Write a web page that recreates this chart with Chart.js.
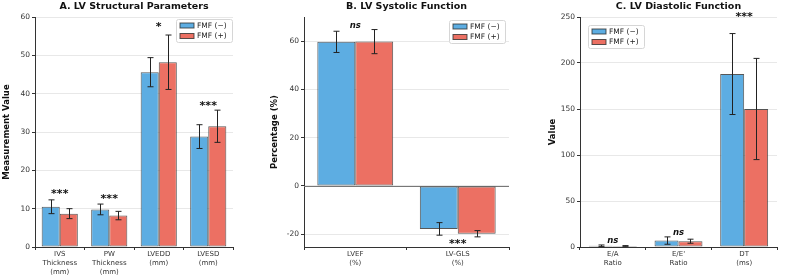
<!DOCTYPE html>
<html>
<head>
<meta charset="utf-8">
<script src="https://cdn.jsdelivr.net/npm/chart.js@4.4.1/dist/chart.umd.min.js"></script>
<style>
  body { margin: 0; background: #fff; }
  .wrap { position: relative; width: 787px; height: 278px; }
  canvas { position: absolute; top: 0; }
</style>
</head>
<body>
<div class="wrap">
  <canvas id="chartA" width="262" height="278" style="left:0px"></canvas>
  <canvas id="chartB" width="262" height="278" style="left:262px"></canvas>
  <canvas id="chartC" width="263" height="278" style="left:524px"></canvas>
</div>
<script>
// ---- data ----
var groupNames = ['FMF (\u2212)', 'FMF (+)'];

var labelsA = [['IVS', 'Thickness', '(mm)'], ['PW', 'Thickness', '(mm)'], ['LVEDD', '(mm)'], ['LVESD', '(mm)']];
var negA = [10.5, 9.8, 45.6, 28.8];
var negErrA = [1.8, 1.4, 3.8, 3.1];
var posA = [8.7, 8.2, 48.2, 31.5];
var posErrA = [1.3, 1.1, 7.1, 4.2];
var sigA = ['***', '***', '*', '***'];
var sigYA = [14.2, 13.1, 58, 37.3];
var ticksA = [0, 10, 20, 30, 40, 50, 60];

var labelsB = [['LVEF', '(%)'], ['LV-GLS', '(%)']];
var negB = [59.7, -17.8];
var negErrB = [4.4, 2.6];
var posB = [59.8, -19.8];
var posErrB = [5.0, 1.3];
var sigB = ['ns', '***'];
var sigYB = [66.5, -23.3];
var ticksB = [-20, 0, 20, 40, 60];

var labelsC = [['E/A', 'Ratio'], ["E/E'", 'Ratio'], ['DT', '(ms)']];
var negC = [1.3, 7.0, 188];
var negErrC = [0.9, 4.0, 44];
var posC = [1.1, 6.3, 150];
var posErrC = [0.4, 2.2, 55];
var sigC = ['ns', 'ns', '***'];
var sigYC = [6.5, 15, 252];
var ticksC = [0, 50, 100, 150, 200, 250];

var blue = '#5DADE2', red = '#EC7063';
var edge = 'rgba(45,45,45,0.8)';
var font = 'DejaVu Sans';

// ---- plugins ----
var errorBars = {
  id: 'errorBars',
  afterDatasetsDraw: function(chart) {
    var ctx = chart.ctx, ys = chart.scales.y;
    ctx.save();
    ctx.strokeStyle = '#222';
    ctx.lineWidth = 1;
    chart.data.datasets.forEach(function(ds, i) {
      chart.getDatasetMeta(i).data.forEach(function(bar, j) {
        var v = ds.data[j], e = ds.err[j];
        var y1 = ys.getPixelForValue(v - e), y2 = ys.getPixelForValue(v + e);
        var x = Math.round(bar.x) + 0.5;
        ctx.beginPath();
        ctx.moveTo(x, y1); ctx.lineTo(x, y2);
        ctx.moveTo(x - 3, y1); ctx.lineTo(x + 3, y1);
        ctx.moveTo(x - 3, y2); ctx.lineTo(x + 3, y2);
        ctx.stroke();
      });
    });
    ctx.restore();
  }
};

var extras = {
  id: 'extras',
  beforeDatasetsDraw: function(chart, args, opts) {
    if (!opts.zeroLine) return;
    var ctx = chart.ctx, a = chart.chartArea;
    var y = Math.round(chart.scales.y.getPixelForValue(0)) + 0.5;
    ctx.save();
    ctx.strokeStyle = '#777';
    ctx.lineWidth = 1.2;
    ctx.beginPath(); ctx.moveTo(a.left, y); ctx.lineTo(a.right, y); ctx.stroke();
    ctx.restore();
  },
  afterDraw: function(chart, args, opts) {
    var ctx = chart.ctx, a = chart.chartArea;
    var xs = chart.scales.x, ys = chart.scales.y;
    ctx.save();
    // title
    ctx.fillStyle = '#111';
    ctx.font = 'bold 9.5px "' + font + '"';
    ctx.textAlign = 'center';
    ctx.textBaseline = 'middle';
    ctx.fillText(opts.title, (a.left + a.right) / 2, 7);
    // significance marks
    opts.sig.forEach(function(s, j) {
      ctx.font = (s === 'ns' ? 'italic bold 8.5px "' : 'bold 11px "') + font + '"';
      var yy = ys.getPixelForValue(opts.sigY[j]) + (s === 'ns' ? 0 : 2);
      ctx.fillText(s, xs.getPixelForValue(j), yy);
    });
    // legend
    var w = 56, h = 23;
    var lx = opts.legend.right != null ? a.right - opts.legend.right - w : a.left + opts.legend.left;
    var ly = a.top + opts.legend.top;
    ctx.fillStyle = 'rgba(255,255,255,0.85)';
    ctx.strokeStyle = '#d6d6d6';
    ctx.lineWidth = 1;
    ctx.beginPath();
    ctx.roundRect(lx + 0.5, ly + 0.5, w, h, 2);
    ctx.fill(); ctx.stroke();
    ctx.font = '7.5px "' + font + '"';
    ctx.textAlign = 'left';
    chart.data.datasets.forEach(function(ds, i) {
      var ry = ly + 6.5 + i * 10.5;
      ctx.fillStyle = ds.backgroundColor;
      ctx.fillRect(lx + 4, ry - 2.5, 14, 5);
      ctx.strokeStyle = edge;
      ctx.strokeRect(lx + 4, ry - 2.5, 14, 5);
      ctx.fillStyle = '#222';
      ctx.fillText(ds.label, lx + 21, ry + 0.5);
    });
    ctx.restore();
  }
};

function makeChart(id, labels, neg, negErr, pos, posErr, cfg) {
  var ticks = cfg.ticks;
  return new Chart(document.getElementById(id), {
    type: 'bar',
    data: {
      labels: labels,
      datasets: [
        { label: groupNames[0], data: neg, err: negErr, backgroundColor: blue, borderColor: edge, borderWidth: 1, borderSkipped: false },
        { label: groupNames[1], data: pos, err: posErr, backgroundColor: red, borderColor: edge, borderWidth: 1, borderSkipped: false }
      ]
    },
    options: {
      responsive: false,
      animation: false,
      layout: { padding: { top: 17, right: cfg.padRight, left: cfg.padLeft, bottom: 0 } },
      datasets: { bar: { categoryPercentage: cfg.catPct, barPercentage: 1 } },
      plugins: {
        legend: { display: false },
        tooltip: { enabled: false },
        extras: { title: cfg.title, sig: cfg.sig, sigY: cfg.sigY, legend: cfg.legend, zeroLine: cfg.zeroLine }
      },
      scales: {
        x: {
          afterFit: function(s) { s.height = 31; },
          border: { display: true, color: '#333', width: 1 },
          grid: { drawOnChartArea: false, drawTicks: true, tickLength: 3, color: '#333' },
          ticks: { color: '#333', padding: -1, font: { family: font, size: 7, lineHeight: 1.35 }, maxRotation: 0, autoSkip: false }
        },
        y: {
          min: cfg.min, max: cfg.max,
          afterFit: function(s) { s.width = cfg.yWidth; },
          afterBuildTicks: function(s) { s.ticks = ticks.map(function(v) { return { value: v }; }); },
          border: { display: true, color: '#333', width: 1 },
          grid: { color: 'rgba(0,0,0,0.09)', borderDash: [3, 3], tickLength: 3, tickColor: '#333', tickBorderDash: [] },
          ticks: { color: '#333', padding: 2, font: { family: font, size: 7.5 } },
          title: { display: true, text: cfg.yTitle, color: '#111', padding: { top: 0, bottom: 2 }, font: { family: font, size: 8.5, weight: 'bold' } }
        }
      }
    },
    plugins: [errorBars, extras]
  });
}

makeChart('chartA', labelsA, negA, negErrA, posA, posErrA, {
  title: 'A. LV Structural Parameters', yTitle: 'Measurement Value',
  min: 0, max: 60, ticks: ticksA, padLeft: 2, yWidth: 33, padRight: 29, catPct: 0.73,
  sig: sigA, sigY: sigYA, legend: { right: 1, top: 2 }
});
makeChart('chartB', labelsB, negB, negErrB, posB, posErrB, {
  title: 'B. LV Systolic Function', yTitle: 'Percentage (%)',
  min: -25.3, max: 70, ticks: ticksB, padLeft: 8, yWidth: 34, padRight: 15, catPct: 0.74,
  sig: sigB, sigY: sigYB, legend: { right: 4, top: 3 }, zeroLine: true
});
makeChart('chartC', labelsC, negC, negErrC, posC, posErrC, {
  title: 'C. LV Diastolic Function', yTitle: 'Value',
  min: 0, max: 250, ticks: ticksC, padLeft: 24, yWidth: 32, padRight: 10, catPct: 0.73,
  sig: sigC, sigY: sigYC, legend: { left: 8, top: 8 }
});
</script>
</body>
</html>
